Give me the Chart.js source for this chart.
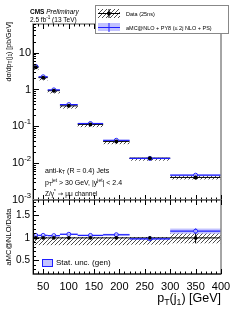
<!DOCTYPE html>
<html>
<head>
<meta charset="utf-8">
<script src="https://cdn.jsdelivr.net/npm/chart.js@4.4.0/dist/chart.umd.min.js"></script>
<style>
  body { margin: 0; background: #fff; }
  #wrap { position: relative; width: 240px; height: 311px; }
  canvas { position: absolute; left: 0; top: 0; }
</style>
</head>
<body>
<div id="wrap">
  <canvas id="topChart" width="240" height="311"></canvas>
  <canvas id="ratioChart" width="240" height="311"></canvas>
</div>
<script>
// bins del pT del jet lider (GeV)
const binEdges = [30, 41, 59, 83, 118, 168, 220, 300, 400];
// dsigma/dpT medido (pb/GeV)
const dataXsec = [4.0, 2.1, 0.93, 0.36, 0.113, 0.039, 0.0137, 0.0041];
// incertidumbre relativa de los datos (banda rayada = sistematica, barra = estadistica)
const dataUncUp = [0.02, 0.02, 0.02, 0.02, 0.02, 0.02, 0.02, 0.10];
const dataUncDown = [0.16, 0.16, 0.16, 0.16, 0.16, 0.16, 0.15, 0.12];
const dataStatUnc = [0.005, 0.005, 0.005, 0.01, 0.01, 0.02, 0.03, 0.12];
// razon aMC@NLO / datos y su incertidumbre estadistica
const ratioMC = [1.055, 1.055, 1.05, 1.08, 1.055, 1.07, 0.98, 1.15];
const mcStatUnc = [0.015, 0.015, 0.015, 0.015, 0.015, 0.02, 0.02, 0.05];
// etiquetas de los ejes
const xTicks = [50, 100, 150, 200, 250, 300, 350, 400];
const logTicks = [10, 1, 0.1, 0.01, 0.001];
const ratioTicks = [0.5, 1, 1.5];

const FONT = '"Liberation Sans", Arial, sans-serif';
const BLUE = 'rgb(30,30,255)';
const BAND = 'rgba(120,120,255,0.45)';

const binCenters = dataXsec.map((v, i) => (binEdges[i] + binEdges[i + 1]) / 2);
const mcXsec = dataXsec.map((v, i) => v * ratioMC[i]);

function makeHatch(ctx) {
  const p = document.createElement('canvas');
  p.width = 4; p.height = 4;
  const c = p.getContext('2d');
  c.strokeStyle = '#000';
  c.lineWidth = 0.7;
  c.beginPath(); c.moveTo(0, 4); c.lineTo(4, 0); c.stroke();
  return ctx.createPattern(p, 'repeat');
}

function fontFor(m, size) {
  if (m === 'sub' || m === 'sup') return (size * 0.7) + 'px ' + FONT;
  if (m === 'b') return 'bold ' + size + 'px ' + FONT;
  if (m === 'i') return 'italic ' + size + 'px ' + FONT;
  if (m === 'sym') return size + 'px "DejaVu Sans", sans-serif';
  return size + 'px ' + FONT;
}

// texto con subindices y superindices
function drawRich(ctx, parts, x, y, size, align) {
  ctx.textAlign = 'left';
  ctx.textBaseline = 'middle';
  const widths = parts.map(([t, m]) => { ctx.font = fontFor(m, size); return ctx.measureText(t).width; });
  const total = widths.reduce((a, b) => a + b, 0);
  let cx = align === 'right' ? x - total : align === 'center' ? x - total / 2 : x;
  parts.forEach(([t, m], i) => {
    ctx.font = fontFor(m, size);
    const dy = m === 'sub' ? size * 0.3 : m === 'sup' ? -size * 0.4 : 0;
    ctx.fillText(t, cx, y + dy);
    cx += widths[i];
  });
}

function drawBins(chart, dataVals, mcVals) {
  const { ctx, scales: { x, y } } = chart;
  const hatch = makeHatch(ctx);
  ctx.save();
  for (let i = 0; i < dataVals.length; i++) {
    const x0 = x.getPixelForValue(binEdges[i]);
    const x1 = x.getPixelForValue(binEdges[i + 1]);
    const xc = x.getPixelForValue(binCenters[i]);
    // banda rayada de datos
    const dHi = y.getPixelForValue(dataVals[i] * (1 + dataUncUp[i]));
    const dLo = y.getPixelForValue(dataVals[i] * (1 - dataUncDown[i]));
    ctx.fillStyle = hatch;
    ctx.fillRect(x0, dHi, x1 - x0, dLo - dHi);
    // banda estadistica MC
    const mHi = y.getPixelForValue(mcVals[i] * (1 + mcStatUnc[i]));
    const mLo = y.getPixelForValue(mcVals[i] * (1 - mcStatUnc[i]));
    ctx.fillStyle = BAND;
    ctx.fillRect(x0, mHi, x1 - x0, Math.max(mLo - mHi, 1));
    // linea horizontal y barra estadistica de datos
    const dy = y.getPixelForValue(dataVals[i]);
    const sHi = y.getPixelForValue(dataVals[i] * (1 + dataStatUnc[i]));
    const sLo = y.getPixelForValue(dataVals[i] * (1 - dataStatUnc[i]));
    ctx.strokeStyle = '#000';
    ctx.lineWidth = 1;
    ctx.beginPath(); ctx.moveTo(x0, dy); ctx.lineTo(x1, dy); ctx.stroke();
    ctx.beginPath(); ctx.moveTo(xc, sHi); ctx.lineTo(xc, sLo); ctx.stroke();
    // linea horizontal MC
    const my = y.getPixelForValue(mcVals[i]);
    ctx.strokeStyle = BLUE;
    ctx.lineWidth = 1.2;
    ctx.beginPath(); ctx.moveTo(x0, my); ctx.lineTo(x1, my); ctx.stroke();
    ctx.beginPath(); ctx.moveTo(xc, mHi); ctx.lineTo(xc, mLo); ctx.stroke();
  }
  ctx.restore();
}

function drawXTicks(chart, withLabels) {
  const { ctx, chartArea: a, scales: { x } } = chart;
  ctx.save();
  ctx.strokeStyle = '#000';
  ctx.lineWidth = 1;
  for (let v = 30; v <= 400; v += 10) {
    const px = Math.round(x.getPixelForValue(v)) + 0.5;
    const len = v % 50 === 0 ? 5 : 2.5;
    ctx.beginPath();
    ctx.moveTo(px, a.bottom); ctx.lineTo(px, a.bottom - len);
    ctx.moveTo(px, a.top); ctx.lineTo(px, a.top + len);
    ctx.stroke();
  }
  if (withLabels) {
    ctx.fillStyle = '#000';
    ctx.font = '11px ' + FONT;
    ctx.textAlign = 'center';
    ctx.textBaseline = 'middle';
    xTicks.forEach(v => ctx.fillText(String(v), x.getPixelForValue(v), a.bottom + 13));
  }
  ctx.restore();
}

function drawFrame(chart) {
  const { ctx, chartArea: a } = chart;
  ctx.save();
  ctx.strokeStyle = '#888';
  ctx.lineWidth = 1.5;
  ctx.strokeRect(a.left, a.top, a.right - a.left, a.bottom - a.top);
  ctx.strokeStyle = '#000';
  ctx.lineWidth = 1;
  ctx.beginPath();
  ctx.moveTo(a.left + 0.5, a.top); ctx.lineTo(a.left + 0.5, a.bottom);
  ctx.moveTo(a.left, a.bottom); ctx.lineTo(a.right, a.bottom);
  ctx.stroke();
  ctx.restore();
}

const topPlugin = {
  id: 'topPanel',
  beforeDatasetsDraw(chart) {
    drawBins(chart, dataXsec, mcXsec);
  },
  afterDraw(chart) {
    const { ctx, chartArea: a, scales: { y } } = chart;
    drawFrame(chart);
    drawXTicks(chart, false);
    ctx.save();
    ctx.strokeStyle = '#000';
    ctx.lineWidth = 1;
    // ticks logaritmicos
    for (let e = -3; e <= 1; e++) {
      for (let k = 1; k <= 9; k++) {
        const v = k * Math.pow(10, e);
        if (v > y.max) continue;
        const py = Math.round(y.getPixelForValue(v)) + 0.5;
        ctx.beginPath(); ctx.moveTo(a.left, py); ctx.lineTo(a.left + (k === 1 ? 6 : 3), py); ctx.stroke();
      }
    }
    ctx.fillStyle = '#000';
    logTicks.forEach(v => {
      const py = y.getPixelForValue(v);
      const e = Math.round(Math.log10(v));
      if (e === 0) drawRich(ctx, [['1', '']], 31, py, 11, 'right');
      else if (e === 1) drawRich(ctx, [['10', '']], 31, py, 11, 'right');
      else drawRich(ctx, [['10', ''], [String(e), 'sup']], 31, py, 11, 'right');
    });
    // textos CMS
    drawRich(ctx, [['CMS', 'b'], [' Preliminary', 'i']], 30, 12, 6.5, 'left');
    drawRich(ctx, [['2.5 fb', ''], ['-1', 'sup'], [' (13 TeV)', '']], 30, 20.5, 6.5, 'left');
    // anotaciones
    drawRich(ctx, [['anti-k', ''], ['T', 'sub'], [' (R = 0.4) Jets', '']], 45, 171, 7, 'left');
    drawRich(ctx, [['p', ''], ['T', 'sub'], ['jet', 'sup'], [' > 30 GeV, |y', ''], ['jet', 'sup'], ['| < 2.4', '']], 45, 183, 7, 'left');
    drawRich(ctx, [['Z/\u03B3', ''], ['*', 'sup'], [' \u2192 ', 'sym'], ['\u03BC\u03BC channel', '']], 45, 194, 6.5, 'left');
    // titulo eje y
    ctx.save();
    ctx.translate(9, 22);
    ctx.rotate(-Math.PI / 2);
    drawRich(ctx, [['d\u03C3/dp', ''], ['T', 'sub'], ['(j', ''], ['1', 'sub'], [') [pb/GeV]', '']], 0, 0, 7, 'right');
    ctx.restore();
    // leyenda
    ctx.fillStyle = '#fff';
    ctx.fillRect(95, 5, 134, 29);
    ctx.strokeStyle = '#888';
    ctx.lineWidth = 1;
    ctx.strokeRect(95.5, 5.5, 133, 28);
    ctx.fillStyle = makeHatch(ctx);
    ctx.fillRect(98, 9, 22, 9);
    ctx.strokeStyle = '#000';
    ctx.beginPath(); ctx.moveTo(98, 13.5); ctx.lineTo(120, 13.5); ctx.moveTo(109, 9); ctx.lineTo(109, 18); ctx.stroke();
    ctx.fillStyle = '#000';
    ctx.beginPath(); ctx.arc(109, 13.5, 2, 0, Math.PI * 2); ctx.fill();
    ctx.fillStyle = BAND;
    ctx.fillRect(98, 23, 22, 8);
    ctx.strokeStyle = BLUE;
    ctx.beginPath(); ctx.moveTo(98, 27.5); ctx.lineTo(120, 27.5); ctx.moveTo(109, 23); ctx.lineTo(109, 32); ctx.stroke();
    ctx.fillStyle = '#000';
    drawRich(ctx, [['Data (25ns)', '']], 126, 14, 5.5, 'left');
    drawRich(ctx, [['aMC@NLO + PY8 (\u2264 2j NLO + PS)', '']], 126, 28, 5.5, 'left');
    ctx.restore();
  }
};

const ratioPlugin = {
  id: 'ratioPanel',
  beforeDatasetsDraw(chart) {
    drawBins(chart, dataXsec.map(() => 1), ratioMC);
  },
  afterDraw(chart) {
    const { ctx, chartArea: a, scales: { y } } = chart;
    drawFrame(chart);
    drawXTicks(chart, true);
    ctx.save();
    ctx.strokeStyle = '#000';
    ctx.lineWidth = 1;
    for (let v = 0.3; v <= 1.81; v += 0.1) {
      const py = Math.round(y.getPixelForValue(v)) + 0.5;
      const major = Math.abs(v * 2 - Math.round(v * 2)) < 1e-6;
      ctx.beginPath(); ctx.moveTo(a.left, py); ctx.lineTo(a.left + (major ? 6 : 3), py); ctx.stroke();
    }
    ctx.fillStyle = '#000';
    ratioTicks.forEach(v => drawRich(ctx, [[String(v), '']], 30, y.getPixelForValue(v), 10, 'right'));
    // titulo eje x
    drawRich(ctx, [['p', ''], ['T', 'sub'], ['(j', ''], ['1', 'sub'], [') [GeV]', '']], 221, 299, 12.5, 'right');
    // titulo eje y
    ctx.save();
    ctx.translate(9, (a.top + a.bottom) / 2);
    ctx.rotate(-Math.PI / 2);
    ctx.fillStyle = '#000';
    drawRich(ctx, [['aMC@NLO/Data', '']], 0, 0, 7.5, 'center');
    ctx.restore();
    // leyenda estadistica
    ctx.fillStyle = BAND;
    ctx.fillRect(42, 259, 11, 8);
    ctx.strokeStyle = BLUE;
    ctx.strokeRect(42.5, 259.5, 10, 7);
    ctx.fillStyle = '#000';
    drawRich(ctx, [['Stat. unc. (gen)', '']], 56, 263, 8, 'left');
    ctx.restore();
  }
};

const baseOptions = (yScale, padding) => ({
  responsive: false,
  animation: false,
  devicePixelRatio: 1,
  layout: { padding: padding },
  plugins: { legend: { display: false }, tooltip: { enabled: false } },
  scales: {
    x: { type: 'linear', min: 30, max: 400, display: false },
    y: Object.assign({ display: false }, yScale)
  }
});

new Chart(document.getElementById('topChart'), {
  type: 'scatter',
  data: {
    datasets: [
      {
        label: 'Data (25ns)',
        data: binCenters.map((c, i) => ({ x: c, y: dataXsec[i] })),
        pointRadius: 2, pointBackgroundColor: '#000', pointBorderColor: '#000', pointBorderWidth: 0
      },
      {
        label: 'aMC@NLO',
        data: binCenters.map((c, i) => ({ x: c, y: mcXsec[i] })),
        pointRadius: 2, pointBackgroundColor: 'rgba(255,255,255,0.6)', pointBorderColor: BLUE, pointBorderWidth: 1
      }
    ]
  },
  options: baseOptions({ type: 'logarithmic', min: 0.001, max: 60 }, { left: 33, right: 19, top: 24, bottom: 111 }),
  plugins: [topPlugin]
});

new Chart(document.getElementById('ratioChart'), {
  type: 'scatter',
  data: {
    datasets: [
      {
        label: 'Data',
        data: binCenters.map(c => ({ x: c, y: 1 })),
        pointRadius: 1.8, pointBackgroundColor: '#000', pointBorderColor: '#000', pointBorderWidth: 0
      },
      {
        label: 'aMC@NLO/Data',
        data: binCenters.map((c, i) => ({ x: c, y: ratioMC[i] })),
        pointRadius: 2, pointBackgroundColor: 'rgba(255,255,255,0.6)', pointBorderColor: BLUE, pointBorderWidth: 1
      }
    ]
  },
  options: baseOptions({ type: 'linear', min: 0.2, max: 1.84 }, { left: 33, right: 19, top: 200, bottom: 37 }),
  plugins: [ratioPlugin]
});
</script>
</body>
</html>
